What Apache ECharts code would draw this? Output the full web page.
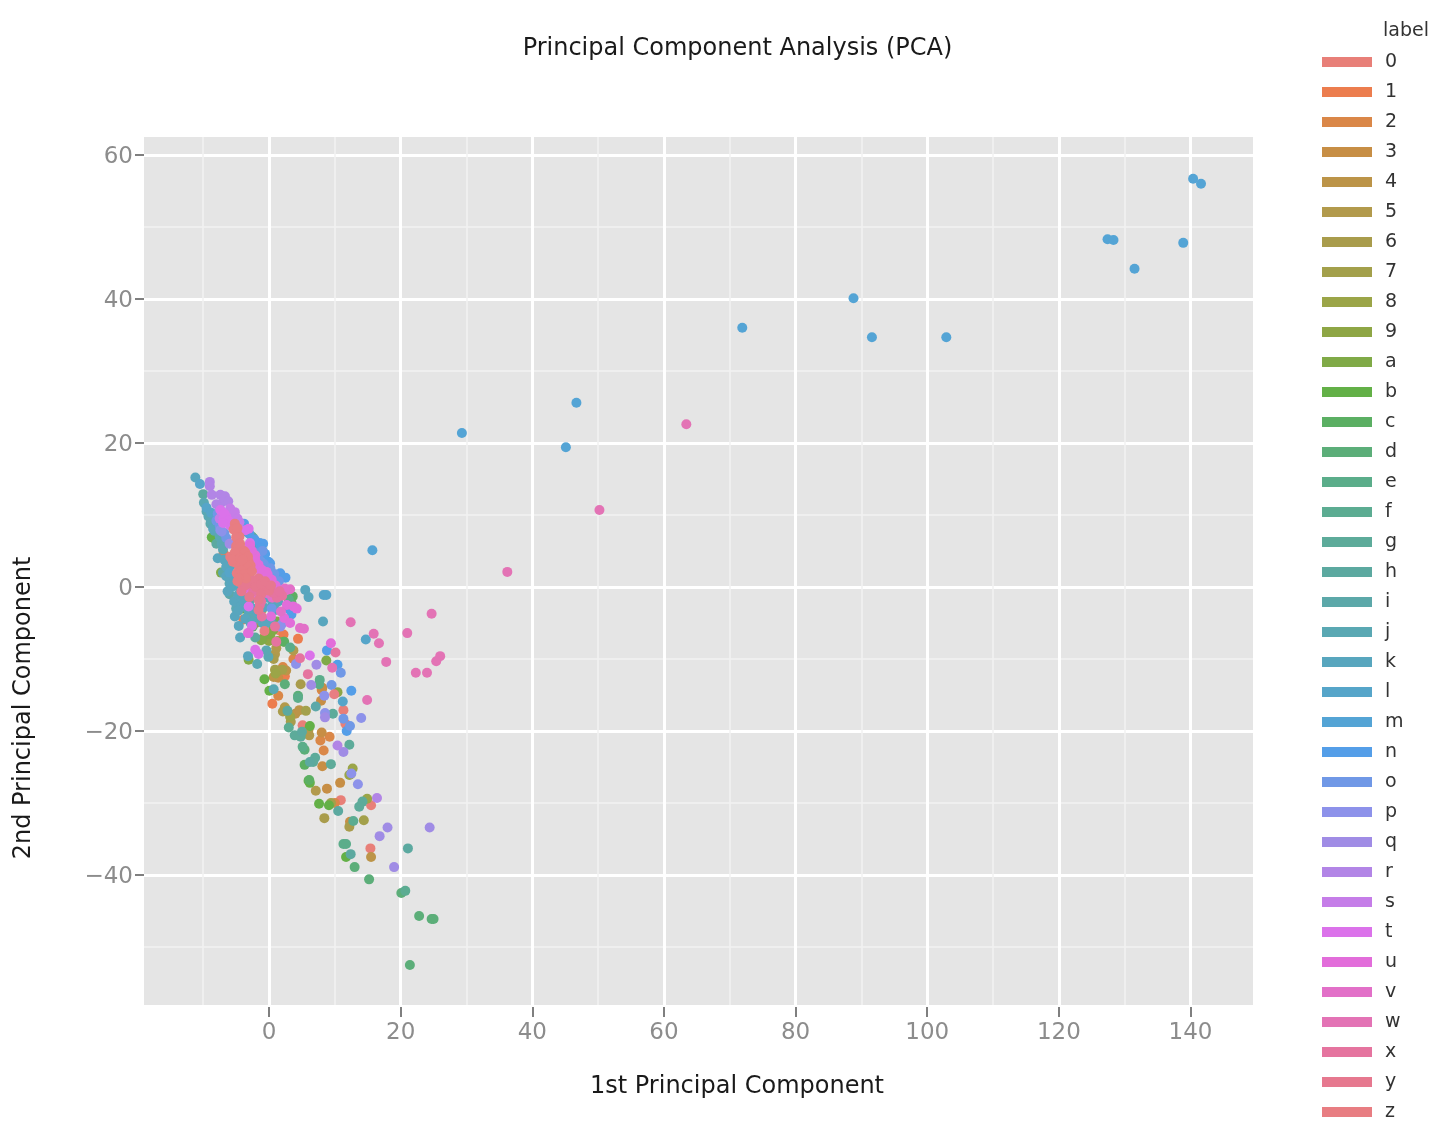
<!DOCTYPE html>
<html><head><meta charset="utf-8"><style>html,body{margin:0;background:#fff}#c{width:1452px;height:1144px;filter:blur(0.6px)}</style>
<script src="https://cdn.jsdelivr.net/npm/echarts@6/dist/echarts.min.js"></script></head>
<body><div id="c"></div><script>
const labels=['0','1','2','3','4','5','6','7','8','9','a','b','c','d','e','f','g','h','i','j','k','l','m','n','o','p','q','r','s','t','u','v','w','x','y','z'];
const colors=['#E87F78','#EC7D4E','#DA8748','#C78E45','#BC9448','#B29A4C','#A99C4C','#A3A04B','#9BA548','#8EA645','#80AA47','#63B047','#5BAF63','#5CAE79','#5BAD8A','#5CAC92','#5DAB9A','#5CA9A0','#5CA8A9','#5AA8B3','#58A6BE','#56A5C9','#54A4D5','#549EE8','#7098E6','#8D92EA','#A08CE5','#B285E6','#C57DE8','#DB72EA','#E26DDA','#E270C8','#E373B5','#E5749F','#E6788F','#E87D82'];
const xMajor=[0,20,40,60,80,100,120,140];
const xMinor=[-10,10,30,50,70,90,110,130];
const yMajor=[-40,-20,0,20,40,60];
const yMinor=[-50,-30,-10,10,30,50];
const s0=[[15.5,-30.3],[15.4,-36.3],[10.9,-29.6],[5.1,-19.2],[11.3,-17.1],[11.6,-19],[1.5,-6],[-4,1.5]];
const s1=[[0.5,-16.2],[4.4,-7.2],[2.2,-6.6],[2.4,-12.4],[-6.9,4.7],[-3.9,-4.5]];
const s2=[[1.4,-15.1],[7.8,-21.3],[9.2,-20.8],[8.3,-22.7],[3.7,-10],[10,-30],[2.1,-11.1],[8,-14.3]];
const s3=[[8.8,-28],[10.8,-27.2],[8.1,-14],[7.9,-15.8],[8,-20.2],[8.1,-24.9],[12.3,-32.6],[1.4,-12.6]];
const s4=[[15.5,-37.5],[4,-17.6],[4.6,-17.1],[0.7,-12.5],[2.6,-11.6],[6,-19.8],[-2,-5]];
const s5=[[7.1,-28.3],[0.9,-9.3],[2.4,-16.7],[6.1,-20.6],[3.7,-8.8],[5.9,-20],[1.1,-8.5]];
const s6=[[8.4,-32.1],[12.2,-33.3],[4.8,-13.5],[2.1,-17.3],[3.3,-18.7],[0.7,-10],[1.4,-11.6],[12.4,-26]];
const s7=[[14.4,-32.4],[0.9,-11.5],[2,-11.5],[5.6,-17.2],[9.4,-30],[-1,-3]];
const s8=[[14.9,-29.4],[12.7,-25.2],[12.2,-26.1],[1,-12],[3.2,-18]];
const s9=[[10.4,-14.6],[0,-7.5],[1.3,-7.5]];
const sa=[[8.7,-10.2],[-7.3,2],[-1.2,-7.4],[2.2,-7.6],[-1,-7.2],[-3.1,-10.1],[0.6,-6],[1.2,-4.8],[0.2,-6.6]];
const sb=[[6.2,-27.2],[6,-26.9],[7.6,-30.1],[9.1,-30.3],[-8.7,6.9],[-8.5,6.8],[-0.7,-12.8],[0.05,-14.4],[6.2,-19.3],[11.7,-37.5],[-4,-3]];
const sc=[[5.4,-24.7],[6.1,-26.8],[2.3,-7.6],[-2.5,-5.5],[-8,8],[3.6,-1.3],[3.4,-2.2]];
const sd=[[13,-38.9],[15.2,-40.6],[20.1,-42.5],[22.8,-45.7],[24.7,-46.1],[25,-46.1],[21.4,-52.5],[5.4,-22.6],[2.4,-13.5],[4.4,-15.1],[0.5,-5]];
const se=[[11.3,-35.7],[11.7,-35.7],[3.2,-8.4],[7.7,-12.9],[7.6,-13.5],[5.1,-22.2],[3,-1.7],[4.4,-15.4]];
const sf=[[12.8,-32.5],[20.7,-42.2],[3,-19.5],[-2.6,7],[-1.6,5.1]];
const sg=[[14.2,-29.8],[13.7,-30.5],[9.7,-17.6],[12.2,-21.9],[7,-23.7],[6.7,-24.3],[9.4,-24.6],[3.9,-20.6],[4.8,-20.8],[-3.3,7.6],[-2.4,6.8],[-1.8,6],[-1,5]];
const sh=[[10.5,-31.1],[12.4,-37.1],[21.1,-36.3],[2.8,-17.2],[5,-20.1],[6.2,-24.3],[-2.1,-7],[-10,12.9],[-8,6]];
const si=[[7.1,-16.6],[-8.9,8.8],[-7,2],[-6,-1],[-3,-2],[-1,-1.5]];
const sj=[[0.7,-14.2],[-0.1,-9.7],[-0.4,-8.8],[-1.8,-10.7],[-9.9,11.7],[-9.2,9.8],[-3.1,-3.9],[-2.1,-4.4],[-6,0.5],[-5,-3],[-1,-5],[0.5,-2.5],[-9.5,10.5],[-8.8,9.2],[-8.3,7.8],[-7.5,7],[-7.2,6],[-7,5.2]];
const sk=[[-11.2,15.2],[-8.5,8.1],[-7.8,4],[5.5,-0.4],[6,-1.4],[8.2,-4.8],[-5.7,0],[-5.3,-2],[-5.2,-4.1],[-4.6,-5.4],[-4.4,-7],[-4.7,-1.1],[-4.2,-2.5],[-3.2,-9.6],[-6.5,1.5],[-5.8,3],[-3.5,-1.5],[-2.5,-3],[-6.3,-0.6],[-6.8,3.8],[-6.5,2.8],[-6,1.2],[-5.8,0.3],[-4.4,-0.3],[-3.6,-0.8],[-3.9,-1.8],[-3.3,-3],[-4.7,-3.3],[-3.6,-4.4],[-2.8,-5],[-1.7,-3.6],[-0.8,-2.8],[-0.2,-1.5],[0.2,-4.6],[-0.6,-5.2],[1,-3.2],[1.4,-2]];
const sl=[[-10.5,14.3],[8.3,-1.1],[8.7,-1.1],[14.7,-7.3],[11.2,-15.9],[-6,2],[-9.5,11],[-8.8,10.3]];
const sm=[[29.3,21.4],[46.7,25.6],[45.1,19.4],[71.9,36],[88.8,40.1],[91.6,34.7],[102.9,34.7],[127.4,48.3],[128.3,48.2],[131.5,44.2],[138.9,47.8],[140.4,56.7],[141.6,56],[15.7,5.1]];
const sn=[[-3.8,8.8],[-1.4,6.1],[-0.9,6],[-0.1,3.5],[0.15,3.3],[1.7,1.9],[2.5,1.3],[8.8,-8.8],[10.4,-10.8],[12.5,-14.4],[11.8,-20],[3.4,-3.8],[3,-3],[-3,7.4],[-2.2,6.6],[-1.2,5.4],[-0.6,4.6]];
const so=[[10.9,-11.9],[9.5,-13.6],[11.3,-18.3],[12.3,-19.3],[0.4,-3],[0.9,-0.4],[-2,3],[-1,5],[-7.8,10.2],[-8,9.2],[-7.5,8.5],[-6.8,7.5],[-6.5,6.8],[-2.8,5.4],[-2.2,4.8],[-1.5,3.8],[-0.8,3.2],[0.2,2.6],[0.8,1.8],[1.5,0.8]];
const sp=[[13.5,-27.4],[4.1,-10.7],[8.4,-15.1],[8.5,-17.5],[12.5,-25.9],[14,-18.2],[1.7,-5.5],[-7.2,7.7],[-7.4,7.9],[1.9,-5.2]];
const sq=[[18,-33.4],[16.8,-34.6],[24.4,-33.4],[19,-38.9],[7.2,-10.8],[6.4,-13.6],[8.5,-18.1],[11.3,-22.9],[-6,6]];
const sr=[[16.4,-29.3],[10.4,-22],[-9,14.6],[-9,14],[-8.7,12.8],[-7.4,12.8],[-6.7,12.6],[-6.9,11.9],[-6.2,11.9],[-8,11.5],[-7.5,11]];
const ss=[[-5.9,10.9],[-5.2,10.4],[-6.5,10.2],[-7.5,9.5],[-6.8,9],[-5.5,9.4],[-4.8,9.5],[-4.5,9]];
const st=[[-7.4,10.7],[-6.9,9.5],[6.2,-9.5],[-3.1,-2.7],[-2.6,-5.4],[-3.1,-6.4],[-2.1,-8.7],[-1.6,-9.3],[-2.1,-1],[-3.4,-0.4],[-3.1,8.1],[-2.9,6.1],[-6.5,9.8],[-6.8,10.2],[-6,8.6],[-6.2,9.2],[-7,8.9],[-3.6,7.9]];
const su=[[9.4,-7.8],[-3.2,-6.4],[2.3,-4.3],[3.2,-5],[-2.1,4.4],[-1.6,3.1],[-2.4,2.6],[-0.4,2.1],[0.4,1],[-0.9,0.5],[0.3,-4.1],[2.7,-2.5],[3.7,-2.7],[4.2,-3],[-3,0.9],[-1.5,-0.5],[-3,5.5],[-2.6,5],[-2.2,3.8],[-1.8,2.8],[-1.2,2],[-0.6,1.2],[0.2,0.5],[1,0.2],[1.5,-0.5],[-2.8,-0.2],[-2,-0.4],[-2.9,5.8],[-2.1,3.8],[-1.1,2.4],[-0.2,1.7]];
const sv=[[4.7,-5.7],[5.3,-5.8],[2.7,-0.4],[3.2,-0.3],[2.4,-0.2],[0.5,-1.5],[-0.2,-0.9],[1.8,-3.4]];
const sw=[[63.4,22.6],[50.2,10.7],[36.2,2.1],[12.4,-4.9],[24.7,-3.7],[15.9,-6.5],[21,-6.4],[16.7,-7.8],[17.8,-10.4],[26,-9.6],[25.4,-10.3],[22.3,-11.9],[24,-11.9],[9.6,-11.2],[14.9,-15.7]];
const sx=[[10.1,-9.1],[4.7,-9.9],[5.9,-12.1],[1.1,-7.6],[-1.4,-2.5],[1.2,-1.5],[0.9,-5.5],[-1.1,-4.1],[-0.5,0.2],[0.6,-0.8],[-2.4,-0.6],[-1.2,-2],[2,-1.2],[1.6,-0.6]];
const sy=[[-2,0.5],[-0.9,-0.6],[-1.6,-3.2],[-4.2,0.5],[-2.7,0.5],[-1.6,1.2],[-3.1,1],[-2.6,1],[-2,0],[-1.2,0.4],[-0.6,0.8],[-1.2,-1],[0,-0.5],[0.3,0.2],[-3.6,0.2],[-1.6,-1.8],[-3,-1.4],[-4.2,-0.6]];
const sz=[[9.9,-14.9],[-0.7,-6.1],[-5.2,8.8],[-4.9,7.5],[-4.7,6.3],[-4.2,5.1],[-4.9,4.4],[-3.6,4.2],[-5.9,4.2],[-3.1,3.5],[-4.9,3.3],[-4.2,3.1],[-4.9,1.9],[-3.6,2.6],[-5,5.7],[-4.5,7],[-5.5,3.5],[-5.4,8],[-4.8,8.2],[-5,6.9],[-4.4,6],[-5,5.2],[-4.4,5.5],[-3.8,5],[-3.6,4.8],[-3.2,4.2],[-5.2,4.8],[-5.6,3.8],[-4.4,4],[-4,3.8],[-2.8,3],[-3.2,2.7],[-4.5,2.6],[-4.2,2.3],[-3.8,1.8],[-2.6,2.2],[-3.5,1.2],[-4.6,1.2],[-4.8,0.8]];
const seriesData=[s0,s1,s2,s3,s4,s5,s6,s7,s8,s9,sa,sb,sc,sd,se,sf,sg,sh,si,sj,sk,sl,sm,sn,so,sp,sq,sr,ss,st,su,sv,sw,sx,sy,sz];
const FONT='"DejaVu Sans"';
const fmt=v=>String(v).replace('-','\u2212');
const chart=echarts.init(document.getElementById('c'),null,{renderer:'canvas'});
const majorLine={show:true,lineStyle:{color:'#FFFFFF',width:3}};
const minorLine={show:true,lineStyle:{color:'#F2F2F2',width:1.5}};
const off={show:false};
const noLine={show:false,onZero:false};
chart.setOption({
 animation:false,backgroundColor:'#fff',
 title:[{text:'Principal Component Analysis (PCA)',left:732.5,top:32,textAlign:'center',textStyle:{fontFamily:FONT,fontSize:24,fontWeight:'normal',color:'#1a1a1a'}},
        {text:'label',left:1378,top:17,textStyle:{fontFamily:FONT,fontSize:19,fontWeight:'normal',color:'#333'}}],
 grid:{left:144,top:137,width:1109,height:868,show:true,backgroundColor:'#E5E5E5',borderWidth:0},
 legend:{orient:'vertical',left:1322,top:52,padding:0,icon:'rect',itemWidth:50,itemHeight:10,itemGap:10,selectedMode:false,
  textStyle:{fontFamily:FONT,fontSize:19,color:'#333',lineHeight:20,padding:[0,0,0,8]},data:labels},
 xAxis:[
  {type:'value',min:-19,max:149.5,offset:2,name:'1st Principal Component',nameLocation:'middle',nameGap:68,
   nameTextStyle:{fontFamily:FONT,fontSize:24,color:'#1a1a1a',padding:[0,0,0,77]},
   axisLine:noLine,splitLine:majorLine,
   axisTick:{show:true,length:10,customValues:xMajor,lineStyle:{color:'#7f7f7f',width:2}},
   axisLabel:{customValues:xMajor,formatter:fmt,margin:15,fontFamily:FONT,fontSize:23,color:'#8c8c8c'}},
  {type:'value',min:-19,max:149.5,axisLine:noLine,axisLabel:off,splitLine:minorLine,
   axisTick:{show:false,customValues:xMinor}}],
 yAxis:[
  {type:'value',min:-58.05,max:62.5,offset:0,name:'2nd Principal Component',nameLocation:'middle',nameGap:108,nameRotate:90,
   nameTextStyle:{fontFamily:FONT,fontSize:24,color:'#1a1a1a',padding:[0,274,0,0]},
   axisLine:noLine,splitLine:majorLine,
   axisTick:{show:true,length:9,customValues:yMajor,lineStyle:{color:'#7f7f7f',width:2}},
   axisLabel:{customValues:yMajor,formatter:fmt,margin:11,verticalAlign:'top',lineHeight:4,fontFamily:FONT,fontSize:23,color:'#8c8c8c'}},
  {type:'value',min:-58.05,max:62.5,axisLine:noLine,axisLabel:off,splitLine:minorLine,
   axisTick:{show:false,customValues:yMinor}}],
 series:labels.map((n,i)=>({name:n,type:'scatter',xAxisIndex:0,yAxisIndex:0,data:seriesData[i],symbol:'circle',symbolSize:10,
   itemStyle:{color:colors[i],opacity:1},z:2+i/100}))
});
</script></body></html>
